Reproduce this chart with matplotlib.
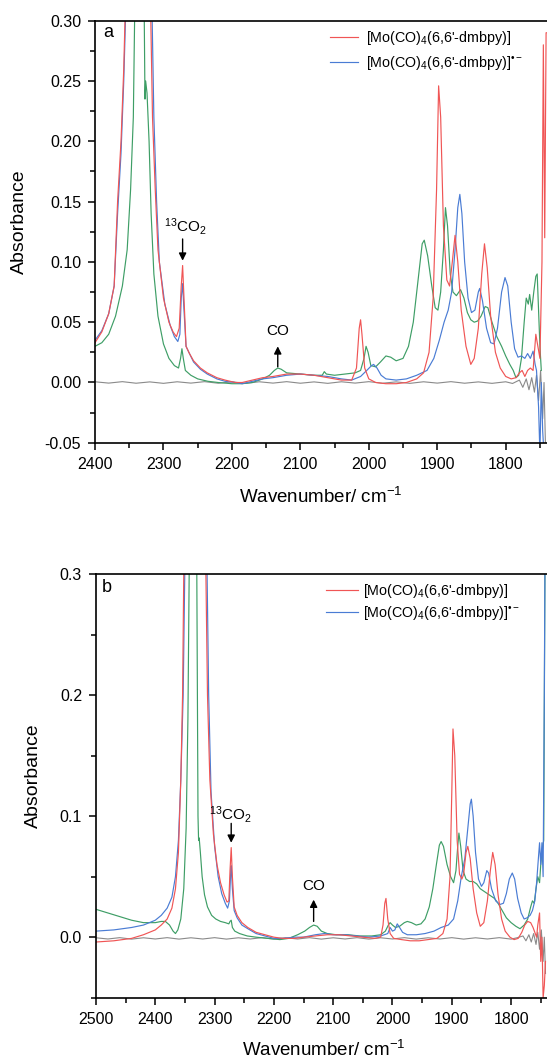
import matplotlib
matplotlib.use("Agg")
import matplotlib.pyplot as plt
from matplotlib.ticker import MultipleLocator, FixedLocator, FormatStrFormatter

plt.rcParams['font.family'] = ['Liberation Sans', 'DejaVu Sans']
plt.rcParams['mathtext.fontset'] = 'custom'
plt.rcParams['mathtext.rm'] = 'Liberation Sans'
plt.rcParams['mathtext.it'] = 'Liberation Sans:italic'
plt.rcParams['mathtext.bf'] = 'Liberation Sans:bold'
plt.rcParams['axes.unicode_minus'] = False

RED = '#f05555'
BLUE = '#4a7cd4'
GREEN = '#3e9e66'
GRAY = '#8a8a8a'

label_neutral = "[Mo(CO)$_4$(6,6'-dmbpy)]"
label_reduced = "[Mo(CO)$_4$(6,6'-dmbpy)]$^{\u2022\u2212}$"

# ---- panel a ----
a_red_wn = [2400, 2390, 2380, 2372, 2367, 2362, 2358, 2354, 2345, 2335, 2325, 2320, 2316,
            2312, 2308, 2300, 2292, 2286, 2281, 2277, 2274, 2272, 2270, 2267, 2262, 2256,
            2246, 2236, 2222, 2210, 2195, 2185, 2170, 2155, 2140, 2120, 2100, 2080, 2060,
            2040, 2025, 2018, 2014, 2012, 2010, 2006, 2000, 1990, 1975, 1960, 1945, 1930,
            1920, 1912, 1906, 1901, 1898, 1895, 1891, 1886, 1882, 1878, 1874, 1870, 1865,
            1858, 1851, 1846, 1840, 1835, 1831, 1827, 1822, 1815, 1808, 1800, 1792, 1785,
            1780, 1776, 1772, 1768, 1764, 1760, 1756, 1753, 1750, 1747, 1745, 1743, 1741, 1739]
a_red_abs = [0.033, 0.042, 0.057, 0.08, 0.15, 0.2, 0.26, 0.35, 0.6, 0.6, 0.6, 0.35, 0.22,
             0.16, 0.11, 0.07, 0.05, 0.042, 0.038, 0.045, 0.08, 0.097, 0.07, 0.03, 0.024, 0.018,
             0.012, 0.008, 0.004, 0.002, 0.0, 0.0, 0.002, 0.004, 0.005, 0.007, 0.007, 0.006, 0.004,
             0.002, 0.002, 0.012, 0.045, 0.052, 0.04, 0.012, 0.003, 0.0, -0.001, -0.001, 0.0, 0.003,
             0.008, 0.025, 0.07, 0.16, 0.246, 0.22, 0.13, 0.085, 0.08, 0.1, 0.122, 0.1, 0.06,
             0.03, 0.015, 0.02, 0.045, 0.09, 0.115, 0.095, 0.055, 0.025, 0.012, 0.005, 0.003, 0.004,
             0.008, 0.01, 0.005, 0.01, 0.012, 0.01, 0.04, 0.03, 0.02, 0.1, 0.28, 0.12, 0.29, 0.29]

a_blue_wn = [2400, 2390, 2380, 2372, 2367, 2362, 2358, 2353, 2345, 2325, 2318, 2314, 2310,
             2306, 2298, 2290, 2284, 2279, 2276, 2274, 2272, 2270, 2267, 2262, 2256, 2246,
             2236, 2222, 2210, 2195, 2185, 2170, 2155, 2140, 2120, 2100, 2080, 2060, 2040,
             2025, 2012, 2003, 1996, 1993, 1988, 1982, 1975, 1960, 1945, 1930, 1915, 1905,
             1897, 1890, 1884, 1879, 1874, 1870, 1867, 1864, 1860, 1855, 1850, 1845, 1840,
             1838, 1834, 1828, 1822, 1817, 1812, 1806, 1801, 1797, 1792, 1787, 1782, 1777,
             1772, 1768, 1764, 1760, 1757, 1755, 1752, 1750, 1748, 1746, 1744]
a_blue_abs = [0.035, 0.043, 0.057, 0.08, 0.14, 0.19, 0.25, 0.35, 0.6, 0.6, 0.35, 0.22, 0.15,
              0.1, 0.065, 0.047, 0.038, 0.034, 0.04, 0.07, 0.082, 0.06, 0.03, 0.024, 0.017, 0.011,
              0.007, 0.003, 0.001, 0.0, -0.001, 0.001, 0.003, 0.004, 0.006, 0.007, 0.006, 0.005, 0.003,
              0.002, 0.005, 0.01, 0.014, 0.015, 0.012, 0.006, 0.003, 0.002, 0.003, 0.006, 0.01, 0.02,
              0.035, 0.05, 0.06, 0.075, 0.11, 0.145, 0.156, 0.14, 0.1, 0.07, 0.058, 0.06, 0.075,
              0.078, 0.068, 0.045, 0.033, 0.032, 0.045, 0.075, 0.087, 0.08, 0.05, 0.028, 0.021, 0.022,
              0.02, 0.024, 0.02, 0.026, 0.015, 0.01, -0.02, -0.06, 0.0, -0.04, -0.06]

a_green_wn = [2400, 2390, 2380, 2370, 2360, 2353, 2348, 2344, 2341, 2337, 2332, 2328, 2327,
              2326, 2324, 2321, 2318, 2314, 2308, 2300, 2292, 2284, 2278, 2275, 2273, 2271,
              2268, 2260, 2250, 2235, 2220, 2200, 2185, 2170, 2155, 2145, 2138, 2133, 2128,
              2120, 2100, 2080, 2068, 2065, 2062, 2050, 2035, 2020, 2012, 2007, 2004, 2001,
              1997, 1990, 1983, 1975, 1968, 1960, 1950, 1942, 1935, 1928, 1922, 1919, 1914,
              1908, 1903, 1899, 1895, 1891, 1888, 1885, 1881, 1877, 1872, 1866, 1861, 1856,
              1851, 1846, 1841, 1836, 1830, 1826, 1820, 1813, 1806, 1800, 1794, 1789, 1785,
              1781, 1777, 1773, 1770, 1767, 1765, 1762, 1759, 1756, 1754, 1752, 1750, 1748]
a_green_abs = [0.030, 0.033, 0.04, 0.055, 0.08, 0.11, 0.16, 0.22, 0.35, 0.6, 0.6, 0.3, 0.235,
               0.25, 0.24, 0.2, 0.14, 0.09, 0.055, 0.032, 0.02, 0.014, 0.012, 0.02, 0.028, 0.02,
               0.01, 0.006, 0.003, 0.001, 0.0, -0.001, -0.001, 0.0, 0.003, 0.006, 0.01, 0.012, 0.011,
               0.008, 0.007, 0.006, 0.006, 0.009, 0.007, 0.006, 0.007, 0.008, 0.01, 0.02, 0.03, 0.025,
               0.014, 0.013, 0.017, 0.022, 0.021, 0.018, 0.02, 0.03, 0.05, 0.085, 0.115, 0.118, 0.105,
               0.08, 0.062, 0.06, 0.075, 0.11, 0.145, 0.13, 0.09, 0.075, 0.072, 0.077, 0.07, 0.058,
               0.052, 0.05, 0.051, 0.055, 0.063, 0.062, 0.05, 0.038, 0.03, 0.022, 0.015, 0.01, 0.004,
               0.006, 0.02, 0.05, 0.07, 0.065, 0.073, 0.06, 0.075, 0.088, 0.09, 0.06, 0.03, 0.01]

a_gray_wn = [2400, 2380, 2360, 2340, 2320, 2300, 2280, 2260, 2240, 2220, 2200, 2180, 2160,
             2140, 2120, 2100, 2080, 2060, 2040, 2020, 2000, 1980, 1960, 1940, 1920, 1900,
             1880, 1860, 1840, 1820, 1800, 1790, 1780, 1775, 1770, 1766, 1762, 1758, 1755,
             1752, 1749, 1746, 1744, 1742]
a_gray_abs = [0.0006, -0.0005, 0.0007, -0.0006, 0.0005, -0.0007, 0.0006, -0.0005, 0.0007, -0.0006,
              0.0005, -0.0007, 0.0006, -0.0005, 0.0007, -0.0006, 0.0005, -0.0007, 0.0006, -0.0005,
              0.0007, -0.0006, 0.0005, -0.0007, 0.0006, -0.0005, 0.0007, -0.0006, 0.0005, -0.0007,
              0.0006, -0.0008, 0.002, -0.004, 0.003, -0.006, 0.004, -0.008, 0.006, -0.015, 0.01,
              -0.03, 0.0, -0.05]

# ---- panel b ----
b_red_wn = [2500, 2470, 2440, 2420, 2400, 2390, 2380, 2372, 2366, 2361, 2357, 2354, 2351,
            2345, 2322, 2316, 2312, 2308, 2302, 2296, 2290, 2284, 2279, 2276, 2274, 2272,
            2270, 2267, 2262, 2254, 2244, 2230, 2215, 2200, 2185, 2165, 2150, 2130, 2110,
            2090, 2070, 2050, 2030, 2020, 2016, 2013, 2011, 2008, 2004, 1998, 1985, 1970,
            1955, 1940, 1925, 1915, 1908, 1903, 1900, 1898, 1895, 1891, 1887, 1883, 1880,
            1876, 1873, 1869, 1864, 1858, 1852, 1846, 1840, 1835, 1831, 1827, 1822, 1816,
            1810, 1802, 1795, 1788, 1782, 1777, 1772, 1767, 1763, 1760, 1757, 1755, 1752,
            1750, 1748, 1746, 1744, 1742]
b_red_abs = [-0.004, -0.003, -0.001, 0.002, 0.006, 0.01, 0.015, 0.024, 0.04, 0.07, 0.13, 0.2, 0.35,
             0.6, 0.6, 0.35, 0.2, 0.13, 0.085, 0.06, 0.045, 0.035, 0.029, 0.03, 0.055, 0.074,
             0.05, 0.025, 0.018, 0.012, 0.008, 0.004, 0.002, 0.0, -0.001, -0.001, 0.0, 0.001, 0.002,
             0.002, 0.001, 0.0, -0.001, 0.0, 0.01, 0.028, 0.032, 0.015, 0.003, -0.001, -0.002, -0.003,
             -0.003, -0.002, -0.001, 0.003, 0.015, 0.05, 0.12, 0.172, 0.15, 0.08, 0.052, 0.048, 0.052,
             0.07, 0.075, 0.065, 0.04, 0.02, 0.009, 0.012, 0.03, 0.055, 0.07, 0.06, 0.035, 0.015,
             0.005, 0.0, -0.002, -0.001, 0.004, 0.01, 0.013, 0.012, 0.008, 0.004, 0.0, 0.01, 0.02,
             -0.02, 0.0, -0.05, -0.04, -0.02]

b_blue_wn = [2500, 2470, 2440, 2420, 2400, 2390, 2380, 2372, 2366, 2361, 2357, 2353, 2349,
             2343, 2320, 2314, 2310, 2306, 2300, 2294, 2288, 2282, 2278, 2275, 2273, 2272,
             2270, 2267, 2262, 2254, 2244, 2230, 2215, 2200, 2185, 2165, 2150, 2130, 2115,
             2100, 2080, 2060, 2040, 2020, 2008, 2004, 2000, 1996, 1992, 1988, 1983, 1975,
             1960, 1945, 1930, 1918, 1906, 1897, 1890, 1884, 1878, 1873, 1869, 1867, 1864,
             1860, 1855, 1850, 1846, 1841, 1838, 1833, 1826, 1819, 1813, 1808, 1803, 1798,
             1794, 1789, 1783, 1778, 1773, 1768, 1764, 1760, 1757, 1754, 1752, 1750, 1748,
             1746, 1744, 1742]
b_blue_abs = [0.005, 0.006, 0.008, 0.01, 0.014, 0.018, 0.024, 0.033, 0.05, 0.08, 0.13, 0.2, 0.35,
              0.6, 0.6, 0.35, 0.2, 0.12, 0.075, 0.05, 0.036, 0.028, 0.024, 0.03, 0.052, 0.059,
              0.04, 0.022, 0.016, 0.01, 0.007, 0.003, 0.001, -0.001, -0.001, 0.0, 0.0, 0.002, 0.003,
              0.002, 0.002, 0.001, 0.0, 0.001, 0.003, 0.008, 0.005, 0.006, 0.011, 0.008, 0.004, 0.002,
              0.002, 0.003, 0.005, 0.008, 0.01, 0.015, 0.03, 0.05, 0.065, 0.09, 0.11, 0.114, 0.1,
              0.07, 0.048, 0.042, 0.045, 0.055, 0.053, 0.04, 0.03, 0.027, 0.028, 0.036, 0.048, 0.053,
              0.048, 0.032, 0.02, 0.015, 0.016, 0.018, 0.022, 0.03, 0.045, 0.065, 0.078, 0.06, 0.078,
              0.05, 0.2, 0.4]

b_green_wn = [2500, 2480, 2460, 2440, 2420, 2400, 2390, 2383, 2376, 2370, 2366, 2362, 2357,
              2352, 2348, 2345, 2342, 2339, 2333, 2330, 2328, 2327, 2326, 2324, 2321, 2317,
              2312, 2305, 2298, 2290, 2282, 2276, 2274, 2272, 2270, 2266, 2258, 2245, 2230,
              2210, 2190, 2175, 2160, 2148, 2140, 2133, 2127, 2120, 2110, 2095, 2075, 2055,
              2035, 2020, 2012, 2007, 2004, 2000, 1995, 1988, 1980, 1975, 1968, 1960, 1952,
              1945, 1938, 1932, 1926, 1921, 1918, 1914, 1908, 1902, 1897, 1893, 1890, 1888,
              1885, 1881, 1876, 1870, 1864, 1858, 1852, 1846, 1840, 1834, 1828, 1822, 1815,
              1808, 1800, 1792, 1785, 1778, 1772, 1767, 1764, 1761, 1758, 1755, 1752, 1750,
              1748, 1745, 1742]
b_green_abs = [0.023, 0.02, 0.017, 0.014, 0.012, 0.012, 0.013, 0.013, 0.01, 0.005, 0.003, 0.006, 0.015,
               0.04, 0.09, 0.18, 0.35, 0.6, 0.6, 0.3, 0.1, 0.08, 0.082, 0.07, 0.05, 0.035,
               0.025, 0.018, 0.015, 0.013, 0.012, 0.011, 0.013, 0.014, 0.008, 0.005, 0.003, 0.001, 0.0,
               -0.001, -0.002, -0.001, 0.002, 0.005, 0.008, 0.01, 0.009, 0.005, 0.003, 0.002, 0.002, 0.001,
               0.001, 0.002, 0.005, 0.01, 0.012, 0.01, 0.008, 0.009, 0.012, 0.013, 0.012, 0.01, 0.011,
               0.015, 0.025, 0.04, 0.06, 0.076, 0.079, 0.075, 0.06, 0.05, 0.045, 0.055, 0.075, 0.086,
               0.075, 0.055, 0.048, 0.046, 0.046, 0.044, 0.04, 0.038, 0.036, 0.034, 0.032, 0.028, 0.022,
               0.016, 0.012, 0.009, 0.007, 0.01, 0.015, 0.025, 0.03, 0.028, 0.04, 0.05, 0.045, 0.06,
               0.07, 0.08, 0.4]

b_gray_wn = [2500, 2480, 2460, 2440, 2420, 2400, 2380, 2360, 2340, 2320, 2300, 2280, 2260,
             2240, 2220, 2200, 2180, 2160, 2140, 2120, 2100, 2080, 2060, 2040, 2020, 2000,
             1980, 1960, 1940, 1920, 1900, 1880, 1860, 1840, 1820, 1800, 1790, 1780, 1775,
             1770, 1766, 1762, 1758, 1755, 1752, 1749, 1746, 1744, 1742]
b_gray_abs = [-0.0005, -0.0015, -0.0004, -0.0016, -0.0005, -0.0015, -0.0004, -0.0016, -0.0005,
              -0.0015, -0.0004, -0.0016, -0.0005, -0.0015, -0.0004, -0.0016, -0.0005, -0.0015,
              -0.0004, -0.0016, -0.0005, -0.0015, -0.0004, -0.0016, -0.0005, -0.0015, -0.0004,
              -0.0016, -0.0005, -0.0015, -0.0004, -0.0016, -0.0005, -0.0015, -0.0004, -0.0016,
              -0.0005, 0.001, -0.003, 0.002, -0.004, 0.003, -0.006, 0.004, -0.01, 0.006, -0.02,
              0.0, -0.03]

a_xticks = [2400, 2300, 2200, 2100, 2000, 1900, 1800]
b_xticks = [2500, 2400, 2300, 2200, 2100, 2000, 1900, 1800]


def style_axes(ax, xlim, xticks, ylim, ymajor, yminor, yfmt):
    ax.set_xlim(*xlim)
    ax.set_ylim(*ylim)
    ax.xaxis.set_major_locator(FixedLocator(xticks))
    ax.xaxis.set_minor_locator(MultipleLocator(50))
    ax.yaxis.set_major_locator(MultipleLocator(ymajor))
    ax.yaxis.set_minor_locator(MultipleLocator(yminor))
    ax.yaxis.set_major_formatter(FormatStrFormatter(yfmt))
    ax.spines['right'].set_visible(False)
    for s in ['left', 'bottom', 'top']:
        ax.spines[s].set_linewidth(1.2)
    ax.tick_params(which='major', direction='out', length=5, width=1.1,
                   labelsize=11.5, pad=5, top=False, right=False)
    ax.tick_params(which='minor', direction='out', length=3.5, width=1.1,
                   top=False, right=False)


def plot_panel(ax, gray, green, blue, red):
    ax.plot(gray[0], gray[1], color=GRAY, lw=0.8)
    ax.plot(green[0], green[1], color=GREEN, lw=0.85)
    hb, = ax.plot(blue[0], blue[1], color=BLUE, lw=0.85)
    hr, = ax.plot(red[0], red[1], color=RED, lw=0.85)
    return hr, hb


def add_arrow(ax, x, y0, y1):
    ax.annotate('', xy=(x, y1), xytext=(x, y0),
                arrowprops=dict(arrowstyle='-|>', color='k', lw=1.0, mutation_scale=11,
                                shrinkA=0, shrinkB=0))


W, H = 547, 1059
fig = plt.figure(figsize=(W / 100, H / 100), dpi=100)

# panel a: 2400 at x=95 px, 68.45 px per 100 cm-1
ax_a = fig.add_axes([95 / W, (H - 442.8) / H, 700 * 0.6845 / W, 422.1 / H])
hr, hb = plot_panel(ax_a, (a_gray_wn, a_gray_abs), (a_green_wn, a_green_abs),
                    (a_blue_wn, a_blue_abs), (a_red_wn, a_red_abs))
style_axes(ax_a, (2400, 1700), a_xticks, (-0.05, 0.30), 0.05, 0.025, '%.2f')
ax_a.set_ylabel('Absorbance', fontsize=14, va='center')
ax_a.yaxis.set_label_coords(-0.158, 0.525)
ax_a.set_xlabel('Wavenumber/ cm$^{-1}$', fontsize=13.5, va='center')
ax_a.xaxis.set_label_coords(0.472, -0.128)
ax_a.text(0.017, 0.972, 'a', transform=ax_a.transAxes, fontsize=13, va='center', ha='left')
ax_a.legend([hr, hb], [label_neutral, label_reduced], loc='upper left',
            bbox_to_anchor=(0.49, 0.98), frameon=False, fontsize=10.3,
            handlelength=2.0, handletextpad=0.55, borderpad=0, borderaxespad=0,
            labelspacing=0.5)
add_arrow(ax_a, 2272, 0.119, 0.101)
ax_a.text(2268, 0.129, '$^{13}$CO$_2$', fontsize=11, ha='center', va='center')
add_arrow(ax_a, 2133, 0.013, 0.030)
ax_a.text(2133, 0.043, 'CO', fontsize=11, ha='center', va='center')

# panel b: 2500 at x=96 px, 59.3 px per 100 cm-1
ax_b = fig.add_axes([96 / W, (H - 997.7) / H, 800 * 0.593 / W, 423.7 / H])
hr, hb = plot_panel(ax_b, (b_gray_wn, b_gray_abs), (b_green_wn, b_green_abs),
                    (b_blue_wn, b_blue_abs), (b_red_wn, b_red_abs))
style_axes(ax_b, (2500, 1700), b_xticks, (-0.05, 0.30), 0.1, 0.05, '%.1f')
ax_b.set_ylabel('Absorbance', fontsize=14, va='center')
ax_b.yaxis.set_label_coords(-0.131, 0.523)
ax_b.set_xlabel('Wavenumber/ cm$^{-1}$', fontsize=13.5, va='center')
ax_b.xaxis.set_label_coords(0.481, -0.123)
ax_b.text(0.013, 0.967, 'b', transform=ax_b.transAxes, fontsize=13, va='center', ha='left')
ax_b.legend([hr, hb], [label_neutral, label_reduced], loc='upper left',
            bbox_to_anchor=(0.485, 0.982), frameon=False, fontsize=10.3,
            handlelength=2.2, handletextpad=0.4, borderpad=0, borderaxespad=0,
            labelspacing=0.3)
add_arrow(ax_b, 2272, 0.094, 0.078)
ax_b.text(2274, 0.101, '$^{13}$CO$_2$', fontsize=11, ha='center', va='center')
add_arrow(ax_b, 2133, 0.013, 0.031)
ax_b.text(2133, 0.042, 'CO', fontsize=11, ha='center', va='center')

fig.savefig('out.png', dpi=100)
